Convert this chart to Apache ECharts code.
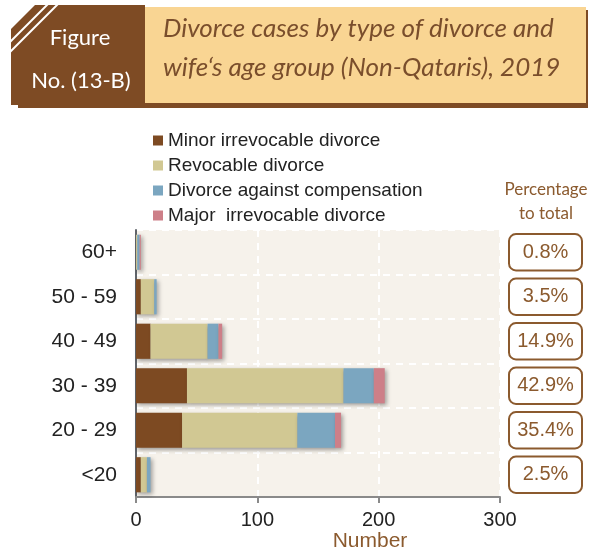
<!DOCTYPE html>
<html>
<head>
<meta charset="utf-8">
<script src="https://cdn.jsdelivr.net/npm/echarts@6/dist/echarts.min.js"></script>
<style>
  html, body { margin: 0; padding: 0; background: #fff; }
  #myChart { width: 594px; height: 552px; }
</style>
</head>
<body>
<div id="myChart"></div>
<script>
// age groups, bottom to top
var ageGroups = ['<20', '20 - 29', '30 - 39', '40 - 49', '50 - 59', '60+']
var minorIrrevocable = [4, 38, 42, 12, 4, 0]
var revocable = [5, 95, 129, 47, 11, 1]
var againstCompensation = [3, 31, 25, 9, 2, 2]
var majorIrrevocable = [0, 5, 9, 3, 0, 1]
var pctToTotal = ['2.5%', '35.4%', '42.9%', '14.9%', '3.5%', '0.8%']
var xTicks = [0, 100, 200, 300]

var brown = '#7E4B24'
var txtBrown = '#8B5A2E'
var arial = "'Liberation Sans', Arimo, Arial, Helvetica, sans-serif"

var myChart = echarts.init(document.getElementById('myChart'))

function barSeries(name, data, color) {
  return {
    name: name,
    type: 'bar',
    stack: 'total',
    xAxisIndex: 0,
    yAxisIndex: 0,
    barCategoryGap: '21%',
    data: data,
    itemStyle: {
      color: color,
      shadowBlur: 4,
      shadowColor: 'rgba(0,0,0,0.35)',
      shadowOffsetX: 2,
      shadowOffsetY: 2
    }
  }
}

myChart.setOption({
  animation: false,
  textStyle: { fontFamily: arial },
  legend: {
    orient: 'vertical',
    left: 148,
    top: 126,
    itemWidth: 10,
    itemHeight: 10,
    itemGap: 6,
    icon: 'rect',
    textStyle: { fontSize: 19, color: '#222', fontFamily: arial },
    data: ['Minor irrevocable divorce', 'Revocable divorce', 'Divorce against compensation', 'Major  irrevocable divorce']
  },
  grid: [
    { left: 136, right: 94, top: 230, bottom: 55, show: true, backgroundColor: '#F6F2EB', borderWidth: 0 },
    { left: 508, right: 11, top: 230, bottom: 55 }
  ],
  xAxis: [
    {
      type: 'value',
      gridIndex: 0,
      min: 0,
      max: 300,
      interval: 100,
      axisLine: { show: true, lineStyle: { color: '#8a8a8a', width: 2 } },
      axisTick: { show: true, length: 6, lineStyle: { color: '#8a8a8a', width: 2 } },
      axisLabel: {
        fontSize: 20,
        color: '#222',
        fontFamily: arial,
        margin: 13,
        formatter: function (v) { return xTicks.indexOf(v) >= 0 ? String(v) : '' }
      },
      splitLine: { show: true, lineStyle: { color: '#ffffff', width: 2, type: [7, 6] } }
    },
    { type: 'value', gridIndex: 1, min: 0, max: 1, show: false }
  ],
  yAxis: [
    {
      type: 'category',
      gridIndex: 0,
      data: ageGroups,
      axisLine: { show: true, lineStyle: { color: '#60646a', width: 2 } },
      axisTick: { show: false },
      axisLabel: { fontSize: 21, color: '#222', fontFamily: arial, margin: 19 },
      splitLine: { show: true, lineStyle: { color: '#ffffff', width: 2, type: [7, 6] } }
    },
    { type: 'category', gridIndex: 1, data: ageGroups, show: false }
  ],
  series: [
    barSeries('Minor irrevocable divorce', minorIrrevocable, '#7D4A22'),
    barSeries('Revocable divorce', revocable, '#D1C893'),
    barSeries('Divorce against compensation', againstCompensation, '#7BA6C0'),
    barSeries('Major  irrevocable divorce', majorIrrevocable, '#CD7F88'),
    {
      name: 'pct',
      type: 'bar',
      xAxisIndex: 1,
      yAxisIndex: 1,
      barCategoryGap: '14%',
      silent: true,
      data: pctToTotal.map(function () { return 1 }),
      itemStyle: { color: '#ffffff', borderColor: '#8B5A2E', borderWidth: 2, borderRadius: 7 },
      label: {
        show: true,
        position: 'inside',
        fontSize: 20,
        color: txtBrown,
        fontFamily: arial,
        formatter: function (p) { return pctToTotal[p.dataIndex] }
      }
    }
  ],
  graphic: [
    // header boxes
    { type: 'rect', shape: { x: 18, y: 10, width: 570, height: 98 }, style: { fill: brown } },
    { type: 'rect', shape: { x: 145, y: 7, width: 441, height: 96 }, style: { fill: '#F9D593' } },
    { type: 'rect', shape: { x: 11, y: 5, width: 134, height: 100 }, style: { fill: brown } },
    { type: 'polygon', shape: { points: [[0, 0], [40, 0], [0, 40]] }, style: { fill: '#fff' } },
    { type: 'line', shape: { x1: 48, y1: 4, x2: 9, y2: 43 }, style: { stroke: '#fff', lineWidth: 2 } },
    { type: 'line', shape: { x1: 58, y1: 4, x2: 9, y2: 53 }, style: { stroke: '#fff', lineWidth: 2 } },
    {
      type: 'text', x: 80, y: 38,
      style: { text: 'Figure', fill: '#fff', font: '22px Lato, "Open Sans", sans-serif', textAlign: 'center', textVerticalAlign: 'middle' }
    },
    {
      type: 'text', x: 81, y: 81,
      style: { text: 'No. (13-B)', fill: '#fff', font: '22px Lato, "Open Sans", sans-serif', textAlign: 'center', textVerticalAlign: 'middle' }
    },
    {
      type: 'text', x: 163, y: 29,
      style: { text: 'Divorce cases by type of divorce and', fill: '#7A4E2C', font: 'italic 26px Lato, "Open Sans", sans-serif', textVerticalAlign: 'middle' }
    },
    {
      type: 'text', x: 163, y: 68,
      style: { text: 'wife\u2018s age group (Non-Qataris), 2019', fill: '#7A4E2C', font: 'italic 26px Lato, "Open Sans", sans-serif', textVerticalAlign: 'middle' }
    },
    // percentage heading
    {
      type: 'text', x: 546, y: 190,
      style: { text: 'Percentage', fill: txtBrown, font: '17px Lato, "Open Sans", sans-serif', textAlign: 'center', textVerticalAlign: 'middle' }
    },
    {
      type: 'text', x: 546, y: 214,
      style: { text: 'to total', fill: txtBrown, font: '17px Lato, "Open Sans", sans-serif', textAlign: 'center', textVerticalAlign: 'middle' }
    },
    // axis name
    {
      type: 'text', x: 370, y: 541,
      style: { text: 'Number', fill: txtBrown, font: "21px 'Liberation Sans', Arial, sans-serif", textAlign: 'center', textVerticalAlign: 'middle' }
    }
  ]
})
</script>
</body>
</html>
